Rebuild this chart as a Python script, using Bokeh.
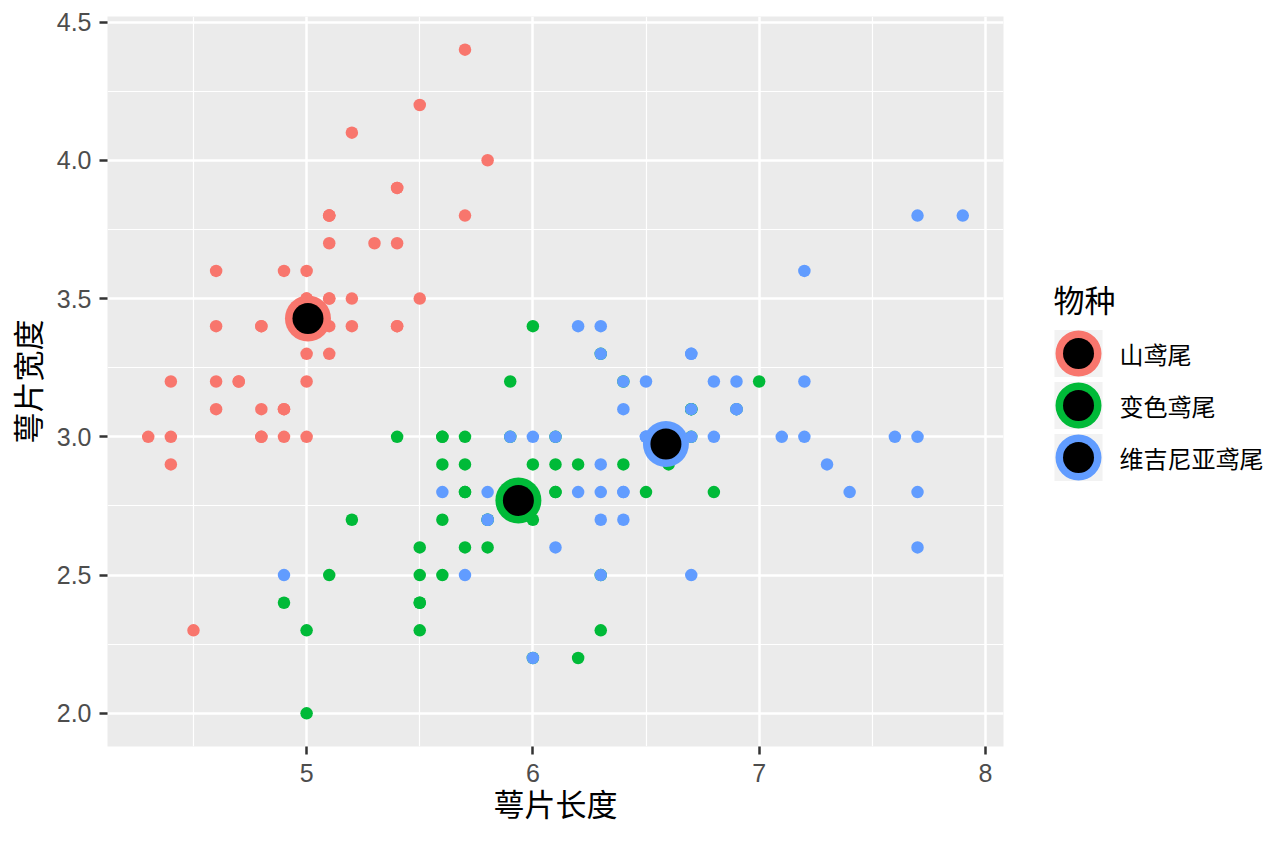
import numpy as np
from bokeh.plotting import figure
from bokeh.layouts import row
from bokeh.models import Range1d, FixedTicker, PrintfTickFormatter, ColumnDataSource
from bokeh.core.properties import value
from bokeh.embed import file_html
from bokeh.resources import INLINE

# ---------------- data (iris sepal measurements) ----------------
species = ["山鸢尾", "变色鸢尾", "维吉尼亚鸢尾"]
colors = ["#F8766D", "#00BA38", "#619CFF"]

setosa_len = [5.1, 4.9, 4.7, 4.6, 5.0, 5.4, 4.6, 5.0, 4.4, 4.9, 5.4, 4.8, 4.8, 4.3, 5.8, 5.7, 5.4, 5.1, 5.7, 5.1,
              5.4, 5.1, 4.6, 5.1, 4.8, 5.0, 5.0, 5.2, 5.2, 4.7, 4.8, 5.4, 5.2, 5.5, 4.9, 5.0, 5.5, 4.9, 4.4, 5.1,
              5.0, 4.5, 4.4, 5.0, 5.1, 4.8, 5.1, 4.6, 5.3, 5.0]
setosa_wid = [3.5, 3.0, 3.2, 3.1, 3.6, 3.9, 3.4, 3.4, 2.9, 3.1, 3.7, 3.4, 3.0, 3.0, 4.0, 4.4, 3.9, 3.5, 3.8, 3.8,
              3.4, 3.7, 3.6, 3.3, 3.4, 3.0, 3.4, 3.5, 3.4, 3.2, 3.1, 3.4, 4.1, 4.2, 3.1, 3.2, 3.5, 3.6, 3.0, 3.4,
              3.5, 2.3, 3.2, 3.5, 3.8, 3.0, 3.8, 3.2, 3.7, 3.3]
versicolor_len = [7.0, 6.4, 6.9, 5.5, 6.5, 5.7, 6.3, 4.9, 6.6, 5.2, 5.0, 5.9, 6.0, 6.1, 5.6, 6.7, 5.6, 5.8, 6.2, 5.6,
                  5.9, 6.1, 6.3, 6.1, 6.4, 6.6, 6.8, 6.7, 6.0, 5.7, 5.5, 5.5, 5.8, 6.0, 5.4, 6.0, 6.7, 6.3, 5.6, 5.5,
                  5.5, 6.1, 5.8, 5.0, 5.6, 5.7, 5.7, 6.2, 5.1, 5.7]
versicolor_wid = [3.2, 3.2, 3.1, 2.3, 2.8, 2.8, 3.3, 2.4, 2.9, 2.7, 2.0, 3.0, 2.2, 2.9, 2.9, 3.1, 3.0, 2.7, 2.2, 2.5,
                  3.2, 2.8, 2.5, 2.8, 2.9, 3.0, 2.8, 3.0, 2.9, 2.6, 2.4, 2.4, 2.7, 2.7, 3.0, 3.4, 3.1, 2.3, 3.0, 2.5,
                  2.6, 3.0, 2.6, 2.3, 2.7, 3.0, 2.9, 2.9, 2.5, 2.8]
virginica_len = [6.3, 5.8, 7.1, 6.3, 6.5, 7.6, 4.9, 7.3, 6.7, 7.2, 6.5, 6.4, 6.8, 5.7, 5.8, 6.4, 6.5, 7.7, 7.7, 6.0,
                 6.9, 5.6, 7.7, 6.3, 6.7, 7.2, 6.2, 6.1, 6.4, 7.2, 7.4, 7.9, 6.4, 6.3, 6.1, 7.7, 6.3, 6.4, 6.0, 6.9,
                 6.7, 6.9, 5.8, 6.8, 6.7, 6.7, 6.3, 6.5, 6.2, 5.9]
virginica_wid = [3.3, 2.7, 3.0, 2.9, 3.0, 3.0, 2.5, 2.9, 2.5, 3.6, 3.2, 2.7, 3.0, 2.5, 2.8, 3.2, 3.0, 3.8, 2.6, 2.2,
                 3.2, 2.8, 2.8, 2.7, 3.3, 3.2, 2.8, 3.0, 2.8, 3.0, 2.8, 3.8, 2.8, 2.8, 2.6, 3.0, 3.4, 3.1, 3.0, 3.1,
                 3.1, 3.1, 2.7, 3.2, 3.3, 3.0, 2.5, 3.0, 3.4, 3.0]

x_ticks = [5, 6, 7, 8]
y_ticks = [2.0, 2.5, 3.0, 3.5, 4.0, 4.5]
x_minor = [4.5, 5.5, 6.5, 7.5]
y_minor = [2.25, 2.75, 3.25, 3.75, 4.25]

groups = [(setosa_len, setosa_wid), (versicolor_len, versicolor_wid), (virginica_len, virginica_wid)]
center_x = [float(np.mean(g[0])) for g in groups]
center_y = [float(np.mean(g[1])) for g in groups]

CJK = "Noto Sans CJK SC"
H = 840
TOP, FH = 16, 730
BOT = H - TOP - FH
MW, LEFT, FW = 1040, 107, 896

# ---------------- main plot ----------------
p = figure(width=MW, height=H, output_backend="svg", toolbar_location=None, title=None,
           x_range=Range1d(4.12, 8.08), y_range=Range1d(1.88, 4.52),
           min_border_left=LEFT, min_border_right=MW - LEFT - FW, min_border_top=TOP, min_border_bottom=BOT)
p.background_fill_color = "#EBEBEB"
p.border_fill_color = "white"
p.outline_line_color = None

p.xaxis.ticker = FixedTicker(ticks=x_ticks, minor_ticks=x_minor)
p.yaxis.ticker = FixedTicker(ticks=y_ticks, minor_ticks=y_minor)
p.xaxis.formatter = PrintfTickFormatter(format="%d")
p.yaxis.formatter = PrintfTickFormatter(format="%.1f")

for ax in (p.xaxis, p.yaxis):
    ax.axis_line_color = None
    ax.major_tick_line_color = "#333333"
    ax.major_tick_line_width = 2.5
    ax.major_tick_out = 8
    ax.major_tick_in = 0
    ax.minor_tick_line_color = None
    ax.major_label_text_font = "Liberation Sans"
    ax.major_label_text_font_size = "25px"
    ax.major_label_text_color = "#4D4D4D"
    ax.axis_label_text_font = CJK
    ax.axis_label_text_font_size = "31px"
    ax.axis_label_text_font_style = "normal"
    ax.axis_label_text_color = "black"

p.xaxis.axis_label = "萼片长度"
p.yaxis.axis_label = "萼片宽度"
p.xaxis.major_label_standoff = 9
p.yaxis.major_label_standoff = 8
p.xaxis.axis_label_standoff = -5
p.yaxis.axis_label_standoff = 5

for g in (p.xgrid, p.ygrid):
    g.grid_line_color = "white"
    g.grid_line_width = 2.5
    g.minor_grid_line_color = "white"
    g.minor_grid_line_width = 1.2

for (xs, ys), c in zip(groups, colors):
    p.scatter(xs, ys, size=12.5, fill_color=c, line_color=None)

p.scatter(center_x, center_y, size=46, fill_color=colors, line_color=None)
p.scatter(center_x, center_y, size=31, fill_color="black", line_color=None)

# ---------------- legend panel (its data units are page pixels) ----------------
LW = 1264 - MW
L = figure(width=LW, height=H, output_backend="svg", toolbar_location=None, title=None,
           x_axis_location=None, y_axis_location=None,
           x_range=Range1d(MW, MW + LW), y_range=Range1d(TOP + FH, TOP),
           min_border_left=0, min_border_right=0, min_border_top=TOP, min_border_bottom=BOT)
L.grid.visible = False
L.outline_line_color = None
L.background_fill_color = "white"
L.border_fill_color = "white"

row_y = [353 + 52 * i for i in range(len(species))]
key_x = [1078] * len(species)
src = ColumnDataSource(dict(x=key_x, y=row_y, c=colors, lab=species, lx=[1119] * len(species)))

L.text(x=[1053], y=[298], text=["物种"], text_font=value(CJK), text_font_size="31px",
       text_baseline="middle", text_align="left", text_color="black")
L.rect(x="x", y="y", width=48, height=47, source=src, fill_color="#F2F2F2", line_color=None)
L.scatter(x="x", y="y", size=46, fill_color="c", line_color=None, source=src)
L.scatter(x="x", y="y", size=31, fill_color="black", line_color=None, source=src)
L.text(x="lx", y="y", text="lab", source=src, text_font=value(CJK), text_font_size="24px",
       text_baseline="middle", text_align="left", text_color="black")

layout = row(p, L)
open("out.html", "w").write(file_html(layout, INLINE))
